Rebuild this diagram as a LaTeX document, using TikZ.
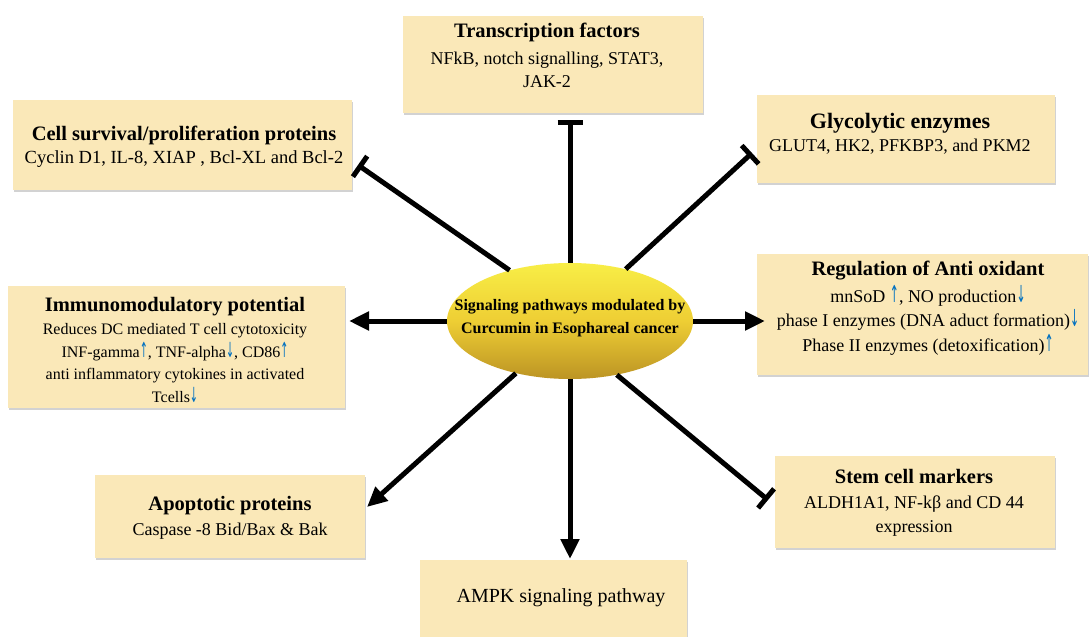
\documentclass[tikz,border=0pt]{standalone}
\usepackage{fontspec}
\usepackage{graphicx}
\setmainfont{Liberation Serif}
\newfontfamily\arrfont{DejaVu Sans}
\usetikzlibrary{arrows.meta,shapes.geometric,shadows}
\definecolor{boxfill}{RGB}{250,232,184}
\definecolor{arrblue}{RGB}{0,112,192}
\definecolor{elltop}{RGB}{248,238,70}
\definecolor{ellmid}{RGB}{238,206,52}
\definecolor{ellbot}{RGB}{188,148,36}
\newcommand{\myup}{\textcolor{arrblue}{\scalebox{0.6}[1.3]{\arrfont ↑}}}
\newcommand{\mydn}{\textcolor{arrblue}{\scalebox{0.6}[1.3]{\arrfont ↓}}}
\newcommand{\ttlfont}{\fontsize{20.5}{24}\selectfont\bfseries}
\begin{document}
\begin{tikzpicture}[x=1pt,y=-1pt,
  box/.style={fill=boxfill, inner sep=0pt, draw=none,
    drop shadow={shadow xshift=1pt,shadow yshift=-2pt,fill=black!35,opacity=0.5}},
  txt/.style={align=center, inner sep=0pt, text=black},
  inh/.style={line width=5pt, -{Bar[width=25pt]}},
  act/.style={line width=5pt, -{Triangle[length=20pt,width=18pt]}}]
\useasboundingbox[fill=white] (0,0) rectangle (1090,637);

% boxes
\node[box, minimum width=300pt, minimum height=97pt] (tf) at (553,64.5) {};
\node[box, minimum width=339pt, minimum height=90pt] (cs) at (182.5,145) {};
\node[box, minimum width=298pt, minimum height=88pt] (gly) at (906,139) {};
\node[box, minimum width=331pt, minimum height=121pt] (ao) at (922.5,314.5) {};
\node[box, minimum width=337pt, minimum height=122pt] (im) at (176.5,347) {};
\node[box, minimum width=280pt, minimum height=92pt] (sc) at (915,502) {};
\node[box, minimum width=270pt, minimum height=83pt] (ap) at (230,516.5) {};
\node[box, minimum width=267pt, minimum height=80pt] (ampk) at (553.5,600) {};

% texts
\node[txt, font=\fontsize{18}{23}\selectfont] (tf-t) at (547,55)
  {{\ttlfont Transcription factors}\\[4pt] NFkB, notch signalling, STAT3,\\ JAK-2};
\node[txt, font=\fontsize{18.5}{23}\selectfont] (cs-t) at (184,146.5)
  {{\ttlfont Cell survival/proliferation proteins}\\ Cyclin D1, IL-8, XIAP , Bcl-XL and Bcl-2};
\node[txt, font=\fontsize{18}{23}\selectfont] (gly-t) at (900,133.5)
  {{\fontsize{22}{24}\selectfont\bfseries Glycolytic enzymes}\\ GLUT4, HK2, PFKBP3, and PKM2};
\node[txt, font=\fontsize{18}{24.5}\selectfont] (ao-t) at (928,308)
  {{\ttlfont Regulation of Anti oxidant}\\[2.5pt] mnSoD \myup, NO production\mydn\\
   phase I enzymes (DNA aduct formation)\mydn\\ Phase II enzymes (detoxification)\myup};
\node[txt, font=\fontsize{16}{22.5}\selectfont] (im-t) at (175,350)
  {{\ttlfont Immunomodulatory potential}\\[0.5pt] Reduces DC mediated T cell cytotoxicity\\
   INF-gamma\myup, TNF-alpha\mydn, CD86\myup\\ anti inflammatory cytokines in activated\\ Tcells\mydn};
\node[txt, font=\fontsize{18}{24}\selectfont] (sc-t) at (914,502.5)
  {{\ttlfont Stem cell markers}\\[1pt] ALDH1A1, NF-kβ and CD 44\\ expression};
\node[txt, font=\fontsize{18}{25}\selectfont] (ap-t) at (230,517.5)
  {{\ttlfont Apoptotic proteins}\\ Caspase -8 Bid/Bax \& Bak};
\node[txt, font=\fontsize{20}{24}\selectfont] (ampk-t) at (561,598)
  {AMPK signaling pathway};

% coordinates for free ends
\coordinate (tf-e) at (570,120);
\coordinate (cs-e) at (358,165);
\coordinate (gly-e) at (752,153);
\coordinate (ao-e) at (765,321);
\coordinate (im-e) at (349,321);
\coordinate (sc-e) at (768,500);
\coordinate (ap-e) at (367,507);
\coordinate (ampk-e) at (570,559);

% central ellipse
\node[ellipse, minimum width=246pt, minimum height=116pt, inner sep=0pt,
  top color=elltop, bottom color=ellbot, middle color=ellmid] (ell) at (570,321) {};
\node[txt, font=\fontsize{16}{23}\selectfont\bfseries] (ell-t) at (570,318.5)
  {Signaling pathways modulated by\\ Curcumin in Esophareal cancer};

% connectors
\draw[inh] (ell.north) -- (tf-e);
\draw[inh] (ell.140) -- (cs-e);
\draw[inh] (ell.43) -- (gly-e);
\draw[act] (ell.east) -- (ao-e);
\draw[act] (ell.west) -- (im-e);
\draw[inh] (ell.-49) -- (sc-e);
\draw[act] (ell.-136) -- (ap-e);
\draw[act] (ell.south) -- (ampk-e);
\end{tikzpicture}
\end{document}
